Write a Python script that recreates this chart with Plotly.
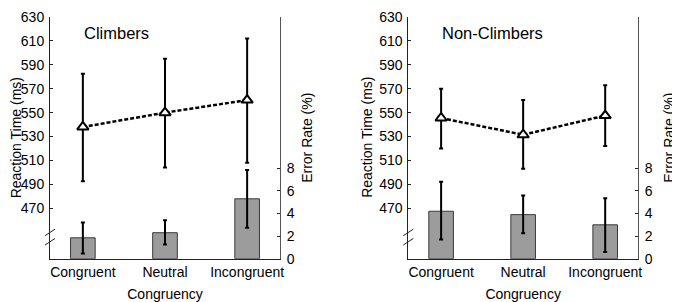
import plotly.graph_objects as go

categories = ["Congruent", "Neutral", "Incongruent"]

# reaction time (ms), markers with error bars
rt_climbers = [538, 550, 560.5]
rt_climbers_hi = [582.5, 595, 612]
rt_climbers_lo = [492.5, 504, 508]
rt_non = [545.5, 531.5, 547.5]
rt_non_hi = [570, 560.5, 573]
rt_non_lo = [520, 503, 522]

# error rate (%), bars with error bars
er_climbers = [1.85, 2.3, 5.3]
er_climbers_hi = [3.2, 3.4, 7.85]
er_climbers_lo = [0.45, 1.25, 2.75]
er_non = [4.2, 3.9, 3.0]
er_non_hi = [6.8, 5.6, 5.35]
er_non_lo = [1.7, 2.25, 0.6]

panel_titles = ["Climbers", "Non-Climbers"]
rt_ticks = list(range(470, 631, 20))
er_ticks = [0, 2, 4, 6, 8]

# the page body has an 8px margin, so the figure is laid out in window pixels minus that
PAD = 8
W, H = 680 - PAD, 302 - PAD
FONT = "Liberation Sans, Arial, sans-serif"
AXIS = "#222222"


def px_x(x):
    return (x - PAD) / W


def px_y(y):
    return 1 - (y - PAD) / H


fig = go.Figure()

panels = [
    (rt_climbers, rt_climbers_hi, rt_climbers_lo, er_climbers, er_climbers_hi, er_climbers_lo),
    (rt_non, rt_non_hi, rt_non_lo, er_non, er_non_hi, er_non_lo),
]

for i, (rt, rt_hi, rt_lo, er, er_hi, er_lo) in enumerate(panels):
    xa = "x" if i == 0 else "x2"
    ya_rt = "y" if i == 0 else "y3"
    ya_er = "y2" if i == 0 else "y4"
    fig.add_trace(
        go.Bar(
            x=categories,
            y=er,
            width=0.3,
            marker={"color": "#9c9c9c", "line": {"color": "#3a3a3a", "width": 1}},
            error_y={
                "type": "data",
                "array": [h - v for h, v in zip(er_hi, er)],
                "arrayminus": [v - l for v, l in zip(er, er_lo)],
                "color": "black",
                "thickness": 2,
                "width": 2,
            },
            xaxis=xa,
            yaxis=ya_er,
            showlegend=False,
        )
    )
    fig.add_trace(
        go.Scatter(
            x=categories,
            y=rt,
            mode="lines+markers",
            line={"color": "black", "width": 2.5, "dash": "4px,2px"},
            marker={"symbol": "triangle-up", "size": 10, "color": "white", "line": {"color": "black", "width": 2}},
            error_y={
                "type": "data",
                "array": [h - v for h, v in zip(rt_hi, rt)],
                "arrayminus": [v - l for v, l in zip(rt, rt_lo)],
                "color": "black",
                "thickness": 2,
                "width": 2,
            },
            xaxis=xa,
            yaxis=ya_rt,
            showlegend=False,
        )
    )

y_top = 17
y_bot = 258.7
ydom = [px_y(y_bot), px_y(y_top)]
rt_range = [427.8, 630]
er_range = [0, 21.39]

x_common = dict(
    type="category",
    range=[-0.4, 2.4],
    automargin=False,
    showline=True,
    linecolor=AXIS,
    linewidth=1,
    showgrid=False,
    zeroline=False,
    ticks="",
    tickfont={"size": 14, "color": "black"},
    title={"text": "Congruency", "font": {"size": 14, "color": "black"}, "standoff": 10},
)
rt_common = dict(
    range=rt_range,
    domain=ydom,
    automargin=False,
    tickvals=rt_ticks,
    ticklabeloverflow="allow",
    showline=True,
    linecolor=AXIS,
    linewidth=1,
    showgrid=False,
    zeroline=False,
    ticks="inside",
    ticklen=3,
    tickcolor=AXIS,
    tickfont={"size": 14, "color": "black"},
    ticklabelstandoff=2,
)
er_common = dict(
    range=er_range,
    automargin=False,
    tickvals=er_ticks,
    side="right",
    showline=True,
    linecolor="#555555",
    linewidth=1,
    showgrid=False,
    zeroline=False,
    ticks="inside",
    ticklen=3,
    tickcolor=AXIS,
    tickfont={"size": 14, "color": "black"},
    ticklabelstandoff=3,
)

fig.update_layout(
    width=W,
    height=H,
    margin={"l": 0, "r": 0, "t": 0, "b": 0, "autoexpand": False},
    paper_bgcolor="white",
    plot_bgcolor="white",
    font={"family": FONT, "size": 14, "color": "black"},
    barmode="overlay",
    xaxis={**x_common, "domain": [px_x(50), px_x(280)], "anchor": "y"},
    xaxis2={**x_common, "domain": [px_x(408.3), px_x(638)], "anchor": "y3"},
    yaxis={**rt_common, "anchor": "x"},
    yaxis2={**er_common, "anchor": "x", "overlaying": "y"},
    yaxis3={**rt_common, "anchor": "x2"},
    yaxis4={**er_common, "anchor": "x2", "overlaying": "y3"},
)

# panel labels
for x_left, label in zip([82, 440], panel_titles):
    fig.add_annotation(
        x=px_x(x_left), y=px_y(33), xref="paper", yref="paper",
        text=label, showarrow=False, xanchor="left", yanchor="middle",
        font={"size": 16.5, "color": "black"},
    )

# vertical axis titles
y_mid = px_y((y_top + y_bot) / 2)
for x_c, text in [(15.5, "Reaction Time (ms)"), (307, "Error Rate (%)"),
                  (367, "Reaction Time (ms)"), (669, "Error Rate (%)")]:
    fig.add_annotation(
        x=px_x(x_c), y=y_mid, xref="paper", yref="paper",
        text=text, textangle=-90, showarrow=False,
        xanchor="center", yanchor="middle",
        font={"size": 14, "color": "black"},
    )

# axis break marks on the left axes
for x_axis in [50, 408.3]:
    for y0 in [235.7, 245]:
        fig.add_shape(
            type="line", xref="paper", yref="paper",
            x0=px_x(x_axis - 5), x1=px_x(x_axis + 5),
            y0=px_y(y0), y1=px_y(y0 - 6.5),
            line={"color": AXIS, "width": 1},
        )

fig.write_html("out.html")
